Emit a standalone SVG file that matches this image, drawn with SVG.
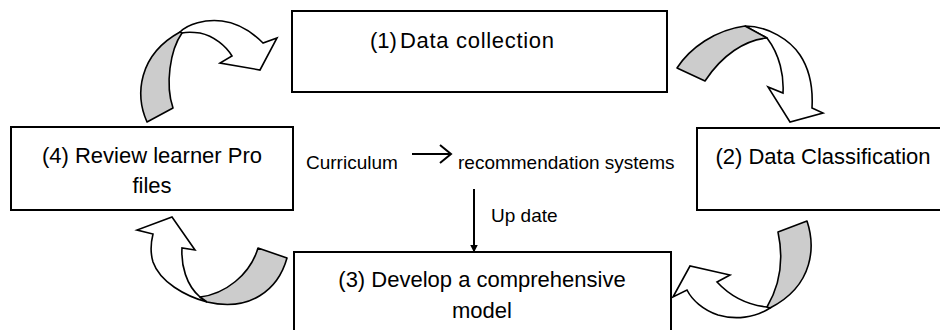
<svg xmlns="http://www.w3.org/2000/svg" width="940" height="330" viewBox="0 0 940 330">
<style>
.box{fill:#fff;stroke:#000;stroke-width:2}
.lbl{font-family:"Liberation Sans",Arial,sans-serif;font-size:22px;fill:#000}
.sm{font-family:"Liberation Sans",Arial,sans-serif;font-size:19px;fill:#000}
.back{fill:#cccccc;stroke:#000;stroke-width:1.6;stroke-linejoin:round}
.front{fill:#fff;stroke:#000;stroke-width:1.6;stroke-linejoin:miter}
.ln{stroke:#000;stroke-width:2;fill:none}
</style>
<defs>
<marker id="ah" markerWidth="8" markerHeight="8" refX="7.5" refY="4" orient="auto" markerUnits="userSpaceOnUse" viewBox="0 0 8 8">
<path d="M0,0 L8,4 L0,8 Z" fill="#000"/>
</marker>
</defs>
<rect width="940" height="330" fill="#fff"/>

<g id="node1">
<rect class="box" x="292" y="11" width="375" height="81"/>
<text class="lbl" x="370" y="48">(1)</text>
<text class="lbl" x="400" y="48" textLength="154" lengthAdjust="spacing">Data collection</text>
</g>

<g id="node2">
<rect class="box" x="697" y="128" width="260" height="82"/>
<text class="lbl" x="823" y="164" text-anchor="middle">(2) Data Classification</text>
</g>

<g id="node3">
<rect class="box" x="294" y="252" width="377" height="90"/>
<text class="lbl" x="482" y="287" text-anchor="middle">(3) Develop a comprehensive</text>
<text class="lbl" x="482" y="318" text-anchor="middle">model</text>
</g>

<g id="node4">
<rect class="box" x="11" y="127" width="282" height="83"/>
<text class="lbl" x="152" y="163" text-anchor="middle">(4) Review learner Pro</text>
<text class="lbl" x="152" y="193" text-anchor="middle">files</text>
</g>

<g id="center-text">
<text class="sm" x="306" y="169">Curriculum</text>
<text class="sm" x="458" y="169">recommendation systems</text>
<text class="sm" x="491" y="222">Up date</text>
</g>

<g id="connectors">
<line class="ln" x1="412" y1="154" x2="450" y2="154"/>
<polyline class="ln" points="440,145 451,154 440,163"/>
<line class="ln" x1="474" y1="189" x2="474" y2="252" marker-end="url(#ah)"/>

<!-- arrow A: node4 -> node1 -->
<path class="front" d="M180,32 C188,24 205,19 222,21 C238,23 252,32 263,43 L277,38 L260,70 L220,63 L232,56 C226,46 214,36 200,33 C193,32 186,32 182,33 Z"/>
<path class="back" d="M147,122 C135,95 138,55 180,32 L182,33 C170,50 165,85 173,108 Z"/>

<!-- arrow B: node1 -> node2 -->
<path class="front" d="M745,26 C768,26 790,40 800,55 C810,70 813,90 812,108 L823,113 L790,122 L768,87 L783,93 C784,76 780,55 767,38 Z"/>
<path class="back" d="M677,68 C690,48 715,30 745,26 L767,38 C745,40 722,55 705,81 Z"/>

<!-- arrow C: node2 -> node3 -->
<path class="front" d="M770,308 C755,318 735,320 718,315 C703,310 692,300 687,290 L673,297 L690,266 L730,275 L717,282 C730,296 748,305 767,307 Z"/>
<path class="back" d="M778,232 L807,221 C815,245 815,285 770,308 L767,307 C780,285 784,260 778,232 Z"/>

<!-- arrow D: node3 -> node4 -->
<path class="front" d="M207,302 C185,296 160,282 153,262 C150,252 151,242 153,234 L137,230 L172,217 L195,250 L182,248 C181,265 186,285 200,297 Z"/>
<path class="back" d="M258,248 L287,258 C278,290 250,312 207,302 L200,297 C225,294 250,275 258,248 Z"/>
</g>
</svg>
